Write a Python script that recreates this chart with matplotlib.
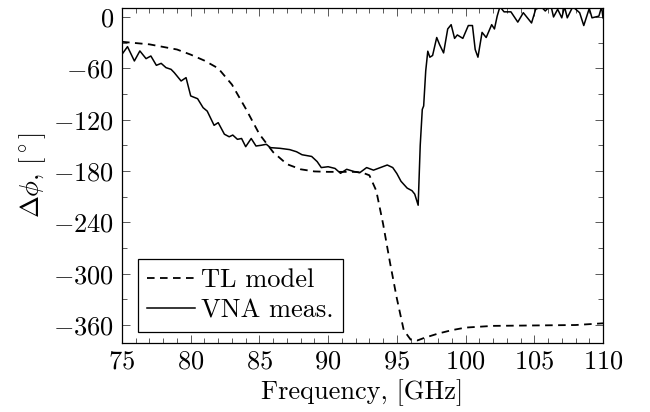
import matplotlib
matplotlib.use("Agg")
import matplotlib.pyplot as plt
from matplotlib.ticker import MultipleLocator

plt.rcParams['font.family'] = ['cmr10', 'DejaVu Serif']
plt.rcParams['mathtext.fontset'] = 'cm'
plt.rcParams['axes.formatter.use_mathtext'] = True
plt.rcParams['font.size'] = 19

# TL model (dashed)
tl_freq = [75, 77, 79, 80, 81, 82, 83, 84, 85, 86, 87, 88, 89, 90, 91, 92, 92.5,
           93, 93.5, 94, 94.5, 95, 95.5, 96, 96.5, 97, 98, 99, 100, 102, 105, 108, 110]
tl_phase = [-29, -32, -38, -44, -51, -60, -79, -107, -137, -158, -172, -178, -180.5,
            -181, -181, -181, -182, -185, -203, -242, -287, -329, -366, -377, -378,
            -375, -370, -366, -363, -361, -360.5, -360, -358]

# VNA measurement (solid)
vna_freq = [75, 75.4, 75.9, 76.3, 76.75, 77.1, 77.5, 77.85, 78.2, 78.57, 78.8, 79.3,
            79.66, 80.0, 80.5, 80.9, 81.2, 81.7, 82.0, 82.45, 82.8, 83.06, 83.4, 83.7,
            84.0, 84.4, 84.75, 85.1, 85.5, 85.8, 86.5, 87.2, 87.7, 88.1, 88.8, 89.2,
            89.5, 90.0, 90.5, 90.9, 91.35, 91.96, 92.3, 92.8, 93.3, 93.8, 94.3, 94.7,
            95.0, 95.3, 95.75, 96.1, 96.3, 96.55, 96.7, 96.85, 96.95, 97.1, 97.25,
            97.4, 97.6, 97.9, 98.1, 98.4, 98.7, 98.95, 99.2, 99.4, 99.8, 100.2, 100.5,
            100.7, 100.9, 101.2, 101.5, 101.9, 102.1, 102.3, 102.5, 102.8, 103.3,
            103.8, 104.2, 104.8, 105.1, 105.5, 105.8, 106.2, 106.4, 106.7, 107, 107.2,
            107.4, 107.8, 108.3, 108.6, 109, 109.2, 109.7, 109.9, 110]
vna_phase = [-43.6, -34.7, -51.4, -39.7, -48.7, -45.6, -56.5, -54.2, -59.2, -61.2, -65,
             -74.8, -70.9, -92.3, -95.5, -106, -110, -126.6, -123.5, -137, -140, -138,
             -143, -142, -151.6, -142, -150.8, -150, -148.8, -152.7, -153.5, -155,
             -157.5, -161, -163, -169, -176, -175, -177, -182.7, -178, -181, -182, -176,
             -179, -176, -173, -176, -183, -192, -200, -203, -207, -220, -150,
             -108, -104, -63, -40, -47, -45, -24, -32, -42, -14, -9, -25, -21, -25, -10,
             -10, -38, -47, -18, -24, -9, -14, 1, 12, 6, 6, -6, 5, -7, 9, 12, 7, 14, 0,
             9, -1, 12, -1, 12, 5, -10, 10, -1, 1, 12, -1]

fig = plt.figure(figsize=(6.5, 4.12), dpi=100)
ax = fig.add_axes([0.1877, 0.1675, 0.74, 0.8131])

ax.plot(tl_freq, tl_phase, color='black', lw=1.3, linestyle=(0, (4.2, 3.0)), label='TL model')
ax.plot(vna_freq, vna_phase, color='black', lw=1.1, label='VNA meas.')

ax.set_xlim(75, 110)
ax.set_ylim(-381, 10.5)
ax.xaxis.set_major_locator(MultipleLocator(5))
ax.xaxis.set_minor_locator(MultipleLocator(1))
ax.yaxis.set_major_locator(MultipleLocator(60))
ax.yaxis.set_minor_locator(MultipleLocator(30))
ax.tick_params(which='both', direction='in', top=True, right=True, color='0.35', width=0.7)
ax.tick_params(which='major', length=6, labelsize=19)
ax.tick_params(axis='y', which='major', pad=6)
ax.tick_params(axis='x', which='major', pad=5)
ax.tick_params(which='minor', length=3.5)
for s in ax.spines.values():
    s.set_linewidth(0.9)

ax.set_xlabel('Frequency, [GHz]', fontsize=19, labelpad=4)
ax.set_ylabel(r'$\Delta\phi$, $[^\circ]$', fontsize=19, labelpad=3)

leg = ax.legend(loc='lower left', bbox_to_anchor=(0.033, 0.033), borderaxespad=0,
                fancybox=False, edgecolor='black', framealpha=1, fontsize=19,
                handlelength=1.8, handletextpad=0.25, borderpad=0.35, labelspacing=0.25)
leg.get_frame().set_linewidth(0.9)

fig.savefig('out.png', dpi=100)
